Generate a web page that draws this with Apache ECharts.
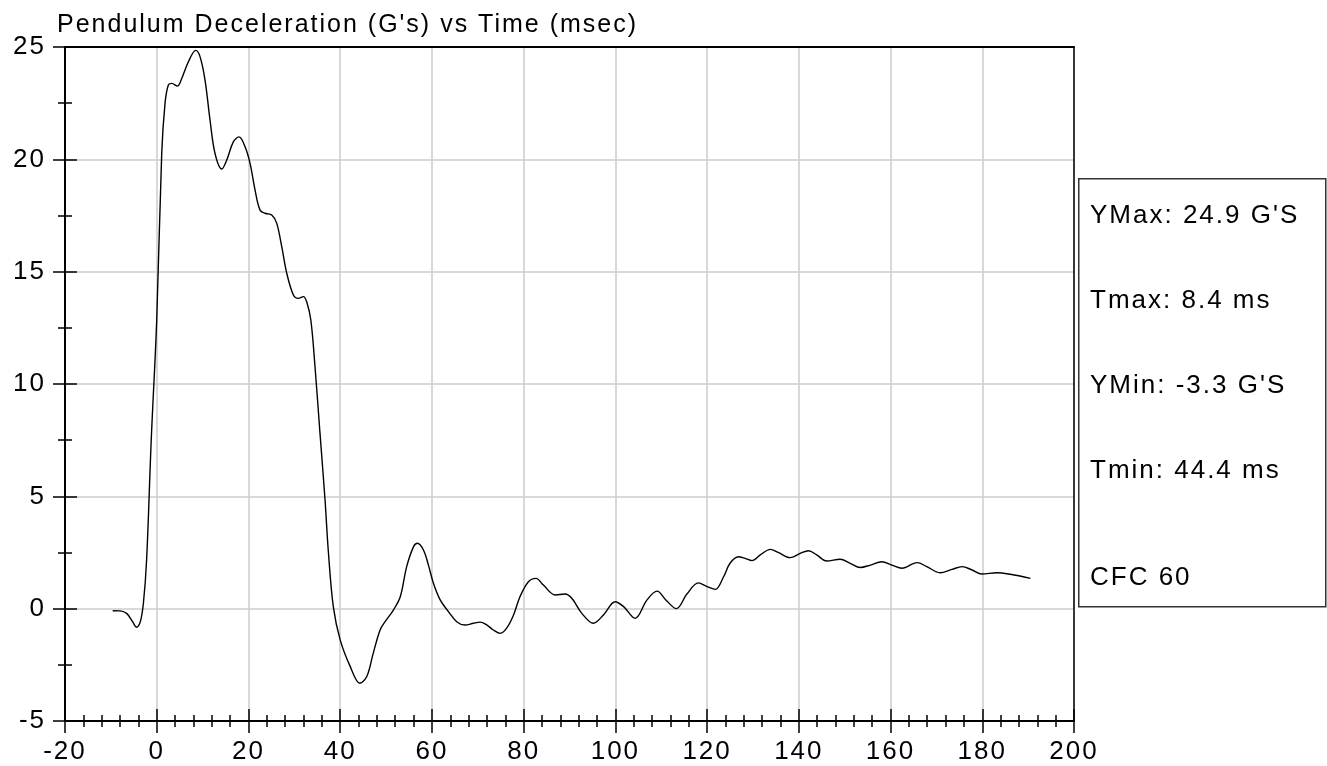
<!DOCTYPE html>
<html>
<head>
<meta charset="utf-8">
<style>
  html, body { margin: 0; padding: 0; background: #fff; }
  #chart { width: 1327px; height: 766px; }
</style>
<script src="https://cdn.jsdelivr.net/npm/echarts@6/dist/echarts.min.js"></script>
</head>
<body>
<div id="chart"></div>
<script>
// ---- data ----
const titleText = "Pendulum Deceleration (G's) vs Time (msec)";
const xTicks = [-20, 0, 20, 40, 60, 80, 100, 120, 140, 160, 180, 200];
const yTicks = [-5, 0, 5, 10, 15, 20, 25];
const statsLines = ["YMax: 24.9 G'S", "Tmax: 8.4 ms", "YMin: -3.3 G'S", "Tmin: 44.4 ms", "CFC 60"];
const timeMs = [
  -9.6, -8, -6.5, -5.2, -4.4, -3.6, -2.9, -2.2, -1.2, 0,
  1.09, 1.81, 2.53, 3.27, 4.49, 5.45, 6.9, 8.5, 9.44, 10.53,
  11.62, 12.7, 14.18, 15.27, 16.7, 17.95, 19.26, 20.35, 21.44, 22.53,
  23.62, 25.08, 26.17, 27.26, 28.35, 29.8, 30.88, 31.97, 32.7, 33.6,
  34.5, 35.6, 36.7, 37.4, 38.5, 40, 42.2, 44.3, 45.8, 47.2,
  48.7, 49.8, 51.6, 53.1, 54.5, 56, 56.85, 58.15, 59.24, 60.33,
  61.8, 63.6, 65.4, 67.2, 69.05, 70.5, 72, 73.4, 74.9, 76.3,
  77.8, 79.2, 81.05, 82.7, 84.3, 86.9, 89.05, 90.5, 92.7, 95.2,
  97.4, 99.96, 101.8, 104.3, 106.9, 109.1, 111.0, 113.3, 115.6, 118.1,
  120, 121.8, 123.6, 125, 126.85, 128.3, 129.8, 131.6, 133.8, 135.6,
  138.1, 140.3, 142.1, 143.9, 146.1, 149, 151.2, 153.4, 155.6, 158.1,
  160.3, 162.5, 165.8, 167.9, 170.8, 173.4, 175.6, 177.8, 179.9, 183.2,
  186.1, 190.5
];
const decelG = [
  -0.09, -0.1, -0.22, -0.6, -0.83, -0.6, 0.25, 2.2, 7.5, 12.85,
  20.27, 22.49, 23.31, 23.38, 23.26, 23.6, 24.34, 24.85, 24.57, 23.53,
  21.75, 20.27, 19.57, 19.97, 20.78, 21.0, 20.56, 19.82, 18.63, 17.74,
  17.6, 17.52, 17.15, 16.11, 14.93, 13.96, 13.81, 13.89, 13.66, 12.85,
  10.8, 7.8, 4.84, 2.6, 0.09, -1.39, -2.58, -3.32, -3.02, -1.99,
  -0.95, -0.58, -0.06, 0.53, 1.87, 2.76, 2.91, 2.61, 1.94, 1.13,
  0.39, -0.13, -0.58, -0.73, -0.65, -0.6, -0.73, -0.95, -1.1, -0.87,
  -0.28, 0.53, 1.2, 1.35, 1.05, 0.61, 0.65, 0.46, -0.21, -0.65,
  -0.28, 0.31, 0.09, -0.43, 0.39, 0.78, 0.39, 0.0, 0.65, 1.15,
  0.98, 0.86, 1.42, 2.02, 2.31, 2.24, 2.14, 2.39, 2.64, 2.49,
  2.27, 2.46, 2.58, 2.39, 2.12, 2.2, 2.02, 1.83, 1.94, 2.09,
  1.94, 1.8, 2.05, 1.87, 1.6, 1.75, 1.87, 1.72, 1.54, 1.6,
  1.53, 1.35
];

// slightly wide letter spacing like the original renderer
const _origGetContext = HTMLCanvasElement.prototype.getContext;
HTMLCanvasElement.prototype.getContext = function (type, opts) {
  const ctx = _origGetContext.call(this, type, opts);
  if (ctx && type === '2d' && 'letterSpacing' in ctx) { ctx.letterSpacing = '2px'; }
  return ctx;
};

const FONT = 'Liberation Sans, Arial, sans-serif';
const xMin = xTicks[0], xMax = xTicks[xTicks.length - 1], xStep = xTicks[1] - xTicks[0];
const yMin = yTicks[0], yMax = yTicks[yTicks.length - 1], yStep = yTicks[1] - yTicks[0];
const seriesData = timeMs.map((t, i) => [t, decelG[i]]);

const black = '#000';
function baseX(extra) {
  return Object.assign({
    type: 'value', min: xMin, max: xMax, interval: xStep, position: 'bottom',
    axisLine: { show: false, onZero: false },
    axisTick: { show: false }, minorTick: { show: false },
    axisLabel: { show: false }, splitLine: { show: false }
  }, extra);
}
function baseY(extra) {
  return Object.assign({
    type: 'value', min: yMin, max: yMax, interval: yStep, position: 'left',
    axisLine: { show: false, onZero: false },
    axisTick: { show: false }, minorTick: { show: false },
    axisLabel: { show: false }, splitLine: { show: false }
  }, extra);
}

const chart = echarts.init(document.getElementById('chart'), null, { renderer: 'canvas' });
const option = {
  animation: false,
  backgroundColor: '#fff',
  title: {
    text: titleText, left: 52, top: 7,
    textStyle: { fontFamily: FONT, fontSize: 25, fontWeight: 'normal', color: '#000' }
  },
  grid: { left: 65, right: 253, top: 47, bottom: 45, containLabel: false },
  xAxis: [
    baseX({
      axisLine: { show: true, onZero: false, lineStyle: { color: black, width: 2 } },
      axisTick: { show: true, inside: false, length: 12, lineStyle: { color: black, width: 1.5 } },
      minorTick: { show: true, splitNumber: 5, length: 6, lineStyle: { color: black, width: 1.5 } },
      axisLabel: { show: true, fontFamily: FONT, fontSize: 26, color: '#000', margin: 17 },
      splitLine: { show: true, lineStyle: { color: '#cccccc', width: 1.5 } }
    }),
    baseX({
      axisTick: { show: true, inside: true, length: 12, lineStyle: { color: black, width: 1.5 } },
      minorTick: { show: true, splitNumber: 5, length: 6, lineStyle: { color: black, width: 1.5 } }
    }),
    baseX({
      position: 'top',
      axisLine: { show: true, onZero: false, lineStyle: { color: black, width: 2 } }
    })
  ],
  yAxis: [
    baseY({
      axisLine: { show: true, onZero: false, lineStyle: { color: black, width: 2 } },
      axisTick: { show: true, inside: false, length: 12, lineStyle: { color: black, width: 1.5 } },
      minorTick: { show: true, splitNumber: 2, length: 7, lineStyle: { color: black, width: 1.5 } },
      axisLabel: { show: true, fontFamily: FONT, fontSize: 26, color: '#000', margin: 19 },
      splitLine: { show: true, lineStyle: { color: '#cccccc', width: 1.5 } }
    }),
    baseY({
      axisTick: { show: true, inside: true, length: 12, lineStyle: { color: black, width: 1.5 } },
      minorTick: { show: true, splitNumber: 2, length: 7, lineStyle: { color: black, width: 1.5 } }
    }),
    baseY({
      position: 'right',
      axisLine: { show: true, onZero: false, lineStyle: { color: black, width: 1.5 } }
    })
  ],
  series: [{
    type: 'line', xAxisIndex: 0, yAxisIndex: 0,
    data: seriesData, smooth: 0.35, showSymbol: false,
    lineStyle: { color: '#000', width: 1.4 }, z: 5
  }],
  graphic: [
    {
      type: 'rect', left: 1078, top: 178, z: 10,
      shape: { width: 247, height: 428 },
      style: { fill: '#fff', stroke: '#333', lineWidth: 1.5 }
    }
  ].concat(statsLines.map((s, i) => ({
    type: 'text', x: 1090, y: [216, 301, 386, 471, 578][i], z: 11,
    style: { text: s, fontFamily: FONT, fontSize: 26, fill: '#000', verticalAlign: 'middle', align: 'left' }
  })))
};
chart.setOption(option);
</script>
</body>
</html>
